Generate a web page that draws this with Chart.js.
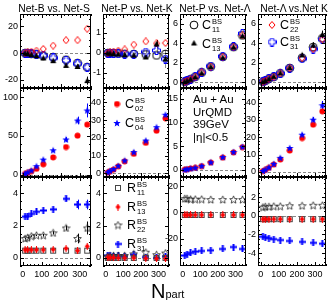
<!DOCTYPE html>
<html>
<head>
<meta charset="utf-8">
<script src="https://cdn.jsdelivr.net/npm/chart.js@4.4.1/dist/chart.umd.min.js"></script>
<style>
  body { margin: 0; background: #fff; }
  #fig { position: relative; width: 331px; height: 306px; overflow: hidden; font-family: "Liberation Sans", Arial, sans-serif; color: #000; }
  #fig canvas { position: absolute; left: 0; top: 0; }
  .txt { position: absolute; white-space: nowrap; z-index: 5; }
  .ttl { font-size: 10.3px; line-height: 12px; transform: translateX(-50%); }
  .lab { font-size: 12.5px; line-height: 14px; }
  .ix { display: inline-block; vertical-align: middle; font-size: 7.5px; line-height: 8px; margin-left: 1px; }
  .ix b { display: block; font-weight: normal; }
  .info { font-size: 11.5px; line-height: 12.6px; }
</style>
</head>
<body>
<div id="fig">
  <div class="txt ttl" style="left:54px;top:3px">Net-B vs. Net-S</div>
  <div class="txt ttl" style="left:137px;top:3px">Net-P vs. Net-K</div>
  <div class="txt ttl" style="left:215px;top:3px">Net-P vs. Net-Λ</div>
  <div class="txt ttl" style="left:294px;top:3px">Net-Λ vs.Net K</div>

  <div class="txt lab" style="left:202px;top:18px">C<span class="ix"><b>BS</b><b>11</b></span></div>
  <div class="txt lab" style="left:202px;top:37px">C<span class="ix"><b>BS</b><b>13</b></span></div>
  <div class="txt lab" style="left:280px;top:18px">C<span class="ix"><b>BS</b><b>22</b></span></div>
  <div class="txt lab" style="left:280px;top:35px">C<span class="ix"><b>BS</b><b>31</b></span></div>

  <div class="txt lab" style="left:125px;top:97px">C<span class="ix"><b>BS</b><b>02</b></span></div>
  <div class="txt lab" style="left:125px;top:116px">C<span class="ix"><b>BS</b><b>04</b></span></div>

  <div class="txt info" style="left:193px;top:93px">Au + Au<br>UrQMD<br>39GeV<br>|η|&lt;0.5</div>

  <div class="txt lab" style="left:127px;top:181px">R<span class="ix"><b>BS</b><b>11</b></span></div>
  <div class="txt lab" style="left:127px;top:200px">R<span class="ix"><b>BS</b><b>13</b></span></div>
  <div class="txt lab" style="left:127px;top:218px">R<span class="ix"><b>BS</b><b>22</b></span></div>
  <div class="txt lab" style="left:127px;top:237px">R<span class="ix"><b>BS</b><b>31</b></span></div>

  <div class="txt" style="left:151px;top:280px;font-size:20px;line-height:22px">N<span style="font-size:11px">part</span></div>
</div>
<script>
// centrality bins (Npart) shared by every panel
const npart = [12, 25, 45, 72, 108, 160, 228, 289, 340];
const xTicks = [0, 100, 200, 300];

// row 1: C11, C13, C22, C31
const bsC11 = [-0.1, -0.3, -0.6, -1.0, -2.0, -3.0, -5.0, -7.5, -10.5];
const bsC13 = [-0.1, -0.4, -1.2, -2.0, -3.7, -5.7, -9.2, -10.0, -20.5];
const bsC22 = [0.2, 0.5, 1.0, 1.8, 3.0, 5.5, 9.5, 9.5, 18.0];
const bsC31 = [-0.1, -0.3, -0.6, -1.0, -2.0, -3.7, -5.5, -8.0, -10.5];
const bsC13Err = [0, 0, 0.2, 0.3, 0.5, 0.8, 1.2, 1.6, 3.0];

const pkC11 = [0, 0, -0.01, -0.02, -0.04, -0.05, -0.07, -0.12, -0.05];
const pkC13 = [0, -0.01, -0.03, -0.05, -0.08, -0.1, -0.2, 0.45, -0.3];
const pkC22 = [0, 0.03, 0.06, 0.12, 0.18, 0.42, 0.58, 0.48, 0.5];
const pkC31 = [0, -0.01, -0.02, -0.04, -0.05, -0.05, 0.05, 0.13, -0.3];
const pkC13Err = [0, 0, 0.01, 0.02, 0.03, 0.05, 0.1, 0.2, 0.3];
const pkC31Err = [0, 0, 0, 0, 0, 0.03, 0.08, 0.15, 0.45];

const plC11 = [0.05, 0.15, 0.3, 0.55, 1.0, 1.6, 2.6, 3.6, 4.8];
const plC13 = [0.05, 0.14, 0.3, 0.55, 0.95, 1.6, 2.55, 3.6, 4.75];
const plC22 = [0.05, 0.15, 0.3, 0.55, 1.0, 1.6, 2.6, 3.6, 4.8];
const plC31 = [0.05, 0.15, 0.32, 0.6, 1.0, 1.65, 2.65, 3.65, 5.0];

const lkC11 = [0.05, 0.15, 0.35, 0.55, 0.9, 1.45, 2.5, 3.6, 4.5];
const lkC13 = [0.05, 0.15, 0.35, 0.6, 0.95, 1.5, 2.8, 3.8, 4.9];
const lkC22 = [0.05, 0.15, 0.35, 0.55, 0.9, 1.45, 2.5, 3.4, 4.4];
const lkC31 = [0.05, 0.15, 0.35, 0.55, 0.9, 1.45, 2.4, 3.4, 4.4];
const lkC13Err = [0, 0, 0, 0, 0.05, 0.1, 0.2, 0.3, 0.4];

// row 2: C02, C04
const bsC02 = [1.0, 2.2, 4.5, 7.6, 13.4, 22.3, 35.7, 50.4, 64.7];
const bsC04 = [1.3, 3.0, 5.5, 11.0, 19.5, 31.5, 45.5, 70.0, 83.0];
const bsC04Err = [0, 0, 0.5, 1, 1.5, 2, 3, 5, 9];
const pkC02 = [0.5, 1.3, 2.2, 4.0, 6.8, 11.0, 17.2, 24.0, 31.0];
const pkC04 = [0.6, 1.5, 2.5, 4.3, 7.3, 12.0, 18.5, 26.0, 33.0];
const plC02 = [0.07, 0.15, 0.3, 0.45, 0.8, 1.55, 2.6, 3.7, 4.8];
const plC04 = [0.08, 0.16, 0.32, 0.48, 0.85, 1.6, 2.7, 3.8, 4.9];
const lkC02 = [0.4, 1.1, 2.3, 4.2, 7.1, 12.3, 19.5, 27.3, 35.0];
const lkC04 = [0.5, 1.3, 2.6, 4.6, 8.1, 13.8, 21.5, 30.2, 38.5];
const lkC04Err = [0, 0, 0, 0, 0.3, 0.5, 1, 1.5, 2.5];

// row 3: R11, R13, R22, R31
const bsR11 = [0.45, 0.45, 0.45, 0.45, 0.45, 0.45, 0.45, 0.45, 0.45];
const bsR13 = [0.5, 0.5, 0.5, 0.5, 0.5, 0.52, 0.58, 0.45, 0.72];
const bsR22 = [1.2, 1.25, 1.35, 1.4, 1.4, 1.55, 1.85, 1.2, 1.85];
const bsR31 = [2.55, 2.58, 2.72, 2.85, 2.93, 3.0, 3.65, 3.3, 3.3];
const bsR22Err = [0.05, 0.05, 0.05, 0.05, 0.08, 0.1, 0.15, 0.3, 0.4];
const bsR31Err = [0.05, 0.05, 0.05, 0.05, 0.08, 0.1, 0.15, 0.3, 0.3];

const pkR11 = [0, 0, 0, 0, 0, 0, 0, 0, 0];
const pkR13 = [0.02, 0.02, 0.02, 0, 0, 0, -0.03, -0.05, -0.05];
const pkR22 = [0.1, 0.12, 0.15, 0.15, 0.15, 0.25, 0.35, 0.2, 0.3];
const pkR31 = [0.15, 0.12, 0.1, 0.12, 0.1, 0.2, 0.05, 0.0, 0.1];

const plR11 = [-2, -2, -2, -2, -2, -2, -2, -2, -2];
const plR13 = [-2, -2, -2, -2, -2, -2, -2, -2, -2];
const plR22 = [10.5, 10.5, 10, 10, 10, 9.8, 9.8, 9.8, 9.8];
const plR31 = [-33, -32, -31, -30, -29.5, -29, -28, -26.5, -28];

const lkR11 = [-0.35, -0.35, -0.35, -0.35, -0.35, -0.35, -0.35, -0.35, -0.35];
const lkR13 = [-0.35, -0.35, -0.35, -0.35, -0.35, -0.35, -0.35, -0.35, -0.35];
const lkR22 = [0.95, 1.0, 1.0, 1.05, 1.05, 1.1, 1.1, 1.15, 1.15];
const lkR31 = [-2.25, -2.3, -2.4, -2.5, -2.6, -2.7, -2.8, -2.9, -3.0];

// y tick labels per panel
const bsTicks1 = [-20, 0, 20], pkTicks1 = [-1, 0, 1], plTicks1 = [0, 2, 4, 6], lkTicks1 = [0, 2, 4, 6];
const bsTicks2 = [0, 50, 100], pkTicks2 = [0, 10, 20, 30, 40], plTicks2 = [0, 5, 10, 15], lkTicks2 = [0, 10, 20, 30, 40];
const bsTicks3 = [0, 2, 4], pkTicks3 = [0, 2, 4], plTicks3 = [-20, 0, 20], lkTicks3 = [-4, -2, 0, 2];

// ---- layout ----
const W = 331, H = 306;
const COLS = [[20, 91], [103, 169], [180, 246], [258, 326]];
const ROWS = [[14, 88], [88, 177], [177, 266]];
const RED = '#ff0000', BLUE = '#0000ff';
const FONT = 'Liberation Sans, Arial, sans-serif';

// marker images
function mk(size, fn) {
  const c = document.createElement('canvas');
  c.width = c.height = size;
  fn(c.getContext('2d'), size / 2);
  return c;
}
function starPath(g, cx, cy, ro, ri) {
  g.beginPath();
  for (let i = 0; i < 10; i++) {
    const r = i % 2 ? ri : ro, a = -Math.PI / 2 + i * Math.PI / 5;
    g.lineTo(cx + r * Math.cos(a), cy + r * Math.sin(a));
  }
  g.closePath();
}
const mCirc = mk(10, (g, h) => { g.strokeStyle = '#000'; g.lineWidth = 1; g.beginPath(); g.arc(h, h, 3.9, 0, 7); g.stroke(); });
const mTri = mk(7, (g, h) => { g.fillStyle = '#000'; g.beginPath(); g.moveTo(h, 0.5); g.lineTo(6.5, 6); g.lineTo(0.5, 6); g.closePath(); g.fill(); });
const mDia = mk(8, (g, h) => { g.strokeStyle = RED; g.lineWidth = 1; g.beginPath(); g.moveTo(h, 0.5); g.lineTo(7, h); g.lineTo(h, 7.5); g.lineTo(1, h); g.closePath(); g.stroke(); });
const mCross = mk(9, (g, h) => {
  g.strokeStyle = BLUE; g.lineWidth = 1;
  const a = 1.5, b = 4;
  const p = [[-a, -b], [a, -b], [a, -a], [b, -a], [b, a], [a, a], [a, b], [-a, b], [-a, a], [-b, a], [-b, -a], [-a, -a]];
  g.beginPath(); p.forEach(([x, y]) => g.lineTo(h + x, h + y)); g.closePath(); g.stroke();
});
const mDot = mk(7, (g, h) => { g.fillStyle = RED; g.beginPath(); g.arc(h, h, 3, 0, 7); g.fill(); });
const mStarB = mk(8, (g, h) => { g.fillStyle = BLUE; starPath(g, h, h + 0.3, 3.9, 1.7); g.fill(); });
const mSq = mk(8, (g, h) => { g.strokeStyle = '#444'; g.lineWidth = 1; g.strokeRect(1.5, 1.5, 5, 5); });
const mRedP = mk(7, (g, h) => { g.fillStyle = RED; g.beginPath(); g.moveTo(h, 0.5); g.lineTo(6, h); g.lineTo(h, 6.5); g.lineTo(1, h); g.closePath(); g.fill(); g.fillRect(3, 0, 1, 7); });
const mStarO = mk(9, (g, h) => { g.strokeStyle = '#222'; g.lineWidth = 0.8; starPath(g, h, h + 0.4, 4, 1.8); g.stroke(); });
const mPlusB = mk(7, (g, h) => { g.fillStyle = BLUE; g.fillRect(2.5, 0, 2, 7); g.fillRect(0, 2.5, 7, 2); });

// frame, inward ticks, dashed zero line, error bars, legend markers
const framePlugin = {
  id: 'frame',
  beforeDatasetsDraw(chart, args, o) {
    const { ctx, chartArea: a, scales: { y } } = chart;
    ctx.save();
    const y0 = Math.round(y.getPixelForValue(0)) + 0.5;
    ctx.strokeStyle = '#888'; ctx.lineWidth = 1; ctx.setLineDash([3, 2]);
    ctx.beginPath(); ctx.moveTo(a.left, y0); ctx.lineTo(a.right, y0); ctx.stroke();
    ctx.setLineDash([]);
    chart.data.datasets.forEach((ds, i) => {
      if (!ds.errs) return;
      ctx.strokeStyle = ds.errColor;
      chart.getDatasetMeta(i).data.forEach((pt, j) => {
        const e = ds.errs[j];
        if (!e) return;
        const v = ds.data[j].y;
        const x = Math.round(pt.x) + 0.5;
        ctx.beginPath();
        ctx.moveTo(x, y.getPixelForValue(v + e));
        ctx.lineTo(x, y.getPixelForValue(v - e));
        ctx.stroke();
      });
    });
    ctx.restore();
  },
  afterDraw(chart, args, o) {
    const { ctx, chartArea: a, scales: { x, y } } = chart;
    ctx.save();
    ctx.strokeStyle = '#000'; ctx.lineWidth = 1;
    ctx.strokeRect(a.left + 0.5, a.top + 0.5, a.right - a.left - 1, a.bottom - a.top - 1);
    const tick = (x1, y1, x2, y2) => { ctx.beginPath(); ctx.moveTo(x1, y1); ctx.lineTo(x2, y2); ctx.stroke(); };
    // x ticks
    for (let v = Math.ceil(x.min / o.xMinor) * o.xMinor; v <= x.max; v += o.xMinor) {
      const px = Math.round(x.getPixelForValue(v)) + 0.5;
      const len = v % 100 === 0 ? 4 : 2;
      tick(px, a.bottom, px, a.bottom - len);
      tick(px, a.top, px, a.top + len);
    }
    // y ticks
    const eps = 1e-6;
    for (let v = Math.ceil(y.min / o.yMinor - eps) * o.yMinor; v <= y.max + eps; v += o.yMinor) {
      const py = Math.round(y.getPixelForValue(v)) + 0.5;
      const major = o.yTicks.some(t => Math.abs(t - v) < o.yMinor / 10);
      const len = major ? 4 : 2;
      tick(a.left, py, a.left + len, py);
      tick(a.right, py, a.right - len, py);
    }
    (o.marks || []).forEach(m => ctx.drawImage(m.img, m.x - m.img.width / 2, m.y - m.img.height / 2));
    ctx.restore();
  }
};

function series(img, vals, errs, errColor) {
  return {
    data: npart.map((n, i) => ({ x: n, y: vals[i] })),
    pointStyle: img, pointRadius: 3, errs: errs, errColor: errColor || '#000'
  };
}

function panel(col, row, yMin, yMax, yTicks, yMinor, datasets, marks) {
  const cv = document.createElement('canvas');
  cv.width = W; cv.height = H;
  document.getElementById('fig').appendChild(cv);
  const [L, R] = COLS[col], [T, B] = ROWS[row];
  const xh = row === 2 ? 12 : 0, yw = 18;
  new Chart(cv, {
    type: 'scatter',
    data: { datasets: datasets },
    options: {
      responsive: false, animation: false, events: [],
      layout: { padding: { left: L - yw, right: W - R, top: T, bottom: H - B - xh } },
      plugins: {
        legend: { display: false }, tooltip: { enabled: false },
        frame: { xMinor: 20, yMinor: yMinor, yTicks: yTicks, marks: marks }
      },
      scales: {
        x: {
          type: 'linear', min: -15, max: 360,
          afterFit: s => { s.height = xh; },
          afterBuildTicks: s => { s.ticks = xTicks.map(v => ({ value: v })); },
          ticks: { display: row === 2, padding: 3, maxRotation: 0, color: '#000', font: { family: FONT, size: 9 } },
          grid: { display: false, drawTicks: false }, border: { display: false }
        },
        y: {
          type: 'linear', min: yMin, max: yMax,
          afterFit: s => { s.width = yw; },
          afterBuildTicks: s => { s.ticks = yTicks.map(v => ({ value: v })); },
          ticks: { padding: 2, color: '#000', font: { family: FONT, size: 9 } },
          grid: { display: false, drawTicks: false }, border: { display: false }
        }
      }
    },
    plugins: [framePlugin]
  });
}

// row 1
panel(0, 0, -26, 29, bsTicks1, 5, [
  series(mTri, bsC13, bsC13Err), series(mDia, bsC22), series(mCross, bsC31), series(mCirc, bsC11)]);
panel(1, 0, -1.75, 1.95, pkTicks1, 0.25, [
  series(mTri, pkC13, pkC13Err), series(mDia, pkC22), series(mCross, pkC31, pkC31Err, '#888'), series(mCirc, pkC11)]);
panel(2, 0, -0.6, 7, plTicks1, 0.5, [
  series(mTri, plC13), series(mDia, plC22), series(mCross, plC31), series(mCirc, plC11)],
  [{ img: mCirc, x: 194, y: 25 }, { img: mTri, x: 194, y: 43 }]);
panel(3, 0, -0.6, 7, lkTicks1, 0.5, [
  series(mTri, lkC13, lkC13Err), series(mDia, lkC22), series(mCross, lkC31), series(mCirc, lkC11)],
  [{ img: mDia, x: 272, y: 25 }, { img: mCross, x: 272, y: 42 }]);

// row 2
panel(0, 1, -3, 112, bsTicks2, 10, [series(mStarB, bsC04, bsC04Err, BLUE), series(mDot, bsC02)]);
panel(1, 1, -2, 48, pkTicks2, 2, [series(mStarB, pkC04), series(mDot, pkC02)],
  [{ img: mDot, x: 117, y: 104 }, { img: mStarB, x: 117, y: 123 }]);
panel(2, 1, -1.5, 17.3, plTicks2, 1, [series(mStarB, plC04), series(mDot, plC02)]);
panel(3, 1, -3, 48.5, lkTicks2, 2, [series(mStarB, lkC04, lkC04Err, BLUE), series(mDot, lkC02)]);

// row 3
panel(0, 2, -0.5, 5, bsTicks3, 0.5, [
  series(mRedP, bsR13), series(mSq, bsR11), series(mStarO, bsR22, bsR22Err), series(mPlusB, bsR31, bsR31Err, BLUE)]);
panel(1, 2, -0.5, 5, pkTicks3, 0.5, [
  series(mRedP, pkR13), series(mSq, pkR11), series(mStarO, pkR22), series(mPlusB, pkR31)],
  [{ img: mSq, x: 118, y: 188 }, { img: mRedP, x: 118, y: 207 }, { img: mStarO, x: 118, y: 225 }, { img: mPlusB, x: 118, y: 244 }]);
panel(2, 2, -41, 27, plTicks3, 5, [
  series(mRedP, plR13), series(mSq, plR11), series(mStarO, plR22), series(mPlusB, plR31)]);
panel(3, 2, -5.4, 4.2, lkTicks3, 0.5, [
  series(mRedP, lkR13), series(mSq, lkR11), series(mStarO, lkR22), series(mPlusB, lkR31)]);
</script>
</body>
</html>
